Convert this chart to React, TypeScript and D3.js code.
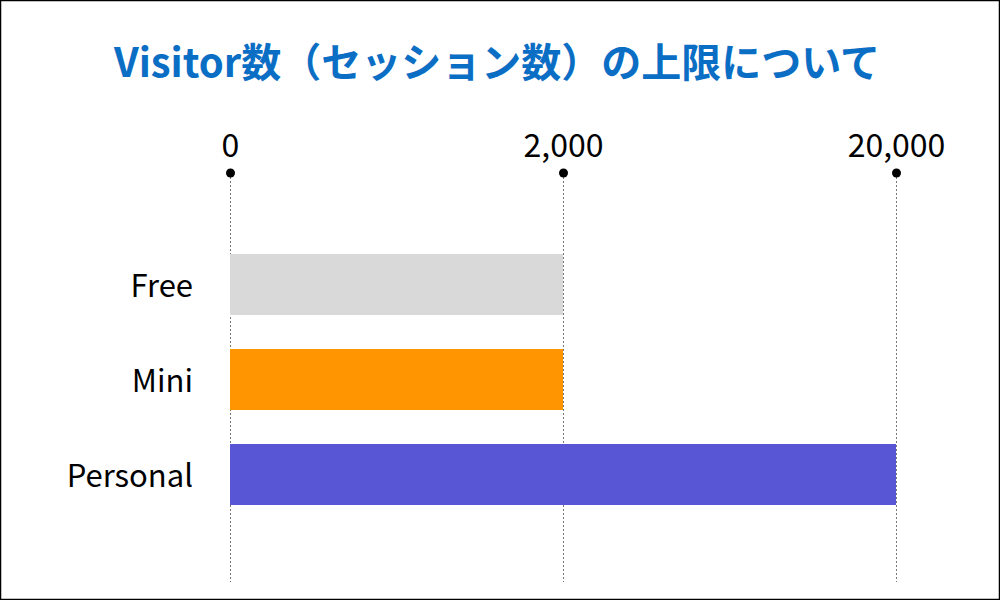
import { useEffect, useRef } from 'react';
import * as d3 from 'd3';

const title = 'Visitor数（セッション数）の上限について';
const plans = ['Free', 'Mini', 'Personal'];
const visitorLimits = [2000, 2000, 20000];
const tickLabels = ['0', '2,000', '20,000'];
const barColors = ['#d9d9d9', '#ff9500', '#5956d6'];

const FONT = '"Noto Sans CJK JP", "Noto Sans", sans-serif';

const App = () => {
  const svgRef = useRef(null);

  useEffect(() => {
    const svg = d3.select(svgRef.current);
    svg.selectAll('*').remove();

    const width = 1000;
    const height = 600;

    svg.append('rect')
      .attr('x', 0.5).attr('y', 0.5)
      .attr('width', width - 1).attr('height', height - 1)
      .attr('fill', '#fff')
      .attr('stroke', '#000')
      .attr('stroke-width', 1.5);

    svg.append('text')
      .attr('x', 497)
      .attr('y', 77)
      .attr('text-anchor', 'middle')
      .attr('font-family', FONT)
      .attr('font-weight', 700)
      .attr('font-size', 40)
      .attr('fill', '#0b6ec5')
      .text(title);

    // ticks are evenly spaced, not proportional to the value
    const xScale = d3.scalePoint()
      .domain(tickLabels)
      .range([230, 896]);
    const fmt = d3.format(',');

    const yScale = d3.scaleBand()
      .domain(plans)
      .range([254, 505])
      .paddingInner(0.358)
      .paddingOuter(0);

    const axisTop = 173;
    const gridBottom = 582;

    const grid = svg.append('g');
    tickLabels.forEach(t => {
      const x = Math.round(xScale(t)) + 0.5;
      grid.append('line')
        .attr('x1', x).attr('x2', x)
        .attr('y1', axisTop).attr('y2', gridBottom)
        .attr('stroke', '#777')
        .attr('stroke-width', 1)
        .attr('stroke-dasharray', '2,2');
      grid.append('circle')
        .attr('cx', x).attr('cy', axisTop)
        .attr('r', 4.5)
        .attr('fill', '#000');
      grid.append('text')
        .attr('x', x)
        .attr('y', 157)
        .attr('text-anchor', 'middle')
        .attr('font-family', FONT)
        .attr('font-size', 32)
        .attr('fill', '#000')
        .text(t);
    });

    const x0 = xScale(tickLabels[0]);
    plans.forEach((p, i) => {
      const xEnd = xScale(fmt(visitorLimits[i]));
      svg.append('rect')
        .attr('x', x0)
        .attr('y', yScale(p))
        .attr('width', xEnd - x0)
        .attr('height', yScale.bandwidth())
        .attr('fill', barColors[i]);
      svg.append('text')
        .attr('x', 193)
        .attr('y', yScale(p) + yScale.bandwidth() / 2)
        .attr('dy', '0.4em')
        .attr('text-anchor', 'end')
        .attr('font-family', FONT)
        .attr('font-size', 31)
        .attr('fill', '#000')
        .text(p);
    });
  }, []);

  return (
    <div style={{ position: 'fixed', left: 0, top: 0, width: 1000, height: 600 }}>
      <svg ref={svgRef} width={1000} height={600} style={{ display: 'block' }}></svg>
    </div>
  );
};

export default App;
